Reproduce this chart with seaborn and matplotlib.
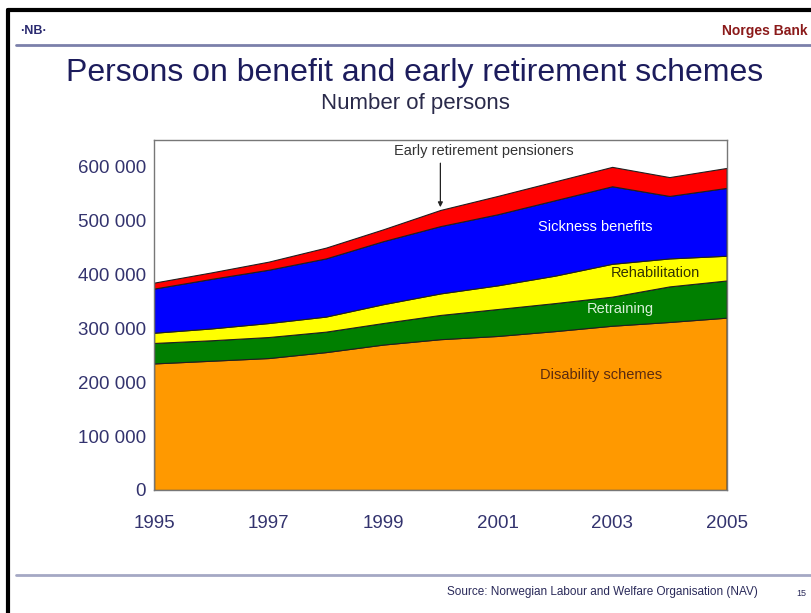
import matplotlib
matplotlib.use("Agg")
import matplotlib.pyplot as plt
import matplotlib.ticker as mticker
from matplotlib.lines import Line2D
import seaborn as sns
import numpy as np

# data (persons)
years = [1995, 1996, 1997, 1998, 1999, 2000, 2001, 2002, 2003, 2004, 2005]
disability = [235000, 240000, 245000, 256000, 270000, 280000, 286000, 295000, 305000, 312000, 320000]
retraining = [38000, 38000, 39000, 38000, 40000, 45000, 50000, 52000, 54000, 66000, 69000]
rehabilitation = [19000, 22000, 26000, 28000, 35000, 40000, 44000, 51000, 61000, 52000, 46000]
sickness = [82000, 92000, 99000, 108000, 117000, 125000, 132000, 140000, 144000, 116000, 126000]
early_retirement = [11000, 12000, 15000, 20000, 22000, 30000, 34000, 35000, 36000, 35000, 37000]

series = [disability, retraining, rehabilitation, sickness, early_retirement]
colors = ["#FF9900", "#007F00", "#FFFF00", "#0000FF", "#FF0000"]

sns.set_theme(style="white")
plt.rcParams['font.family'] = ['Liberation Sans', 'DejaVu Sans']

fig = plt.figure(figsize=(8.11, 6.13), dpi=100)
ax = fig.add_axes([0.190, 0.2007, 0.706, 0.571])

ax.stackplot(years, *series, colors=colors, edgecolor="#202020", linewidth=0.8)

ax.set_xlim(1995, 2005)
ax.set_ylim(0, 650000)
ax.set_xticks(years[::2])
ax.set_yticks(np.arange(0, 600001, 100000))
ax.yaxis.set_major_formatter(mticker.FuncFormatter(lambda v, p: f"{int(v):,}".replace(",", " ")))
ax.tick_params(direction="in", length=4, color="#555555", labelsize=13.5,
               labelcolor="#33336e", pad=6)
ax.tick_params(axis="x", pad=18)
for s in ax.spines.values():
    s.set_color("#777777")
    s.set_linewidth(1.0)

# layer labels
cum = np.cumsum(series, axis=0)
ax.text(2002.7, 488000, "Sickness benefits", color="white", fontsize=10.5, ha="center", va="center")
ax.text(2003.75, 402000, "Rehabilitation", color="#333300", fontsize=10.5, ha="center", va="center")
ax.text(2003.15, 336000, "Retraining", color="#d8f0d8", fontsize=10.5, ha="center", va="center")
ax.text(2002.8, 213000, "Disability schemes", color="#5a2a10", fontsize=10.5, ha="center", va="center")
ax.text(2000.75, 630000, "Early retirement pensioners", color="#333333", fontsize=10.5,
        ha="center", va="center")
ax.annotate("", xy=(2000, cum[-1][5]), xytext=(2000, 612000),
            arrowprops=dict(arrowstyle="-|>", color="#222222", lw=0.9, mutation_scale=7))

# slide decoration
def fy(y):
    return 1 - y / 613

def fx(x):
    return x / 811

fig.add_artist(Line2D([fx(8), 1], [fy(10), fy(10)], color="black", lw=3))
fig.add_artist(Line2D([fx(8), fx(8)], [fy(10), 0], color="black", lw=3))
fig.add_artist(Line2D([fx(16), 1], [fy(45), fy(45)], color="#7b80aa", lw=2))
fig.add_artist(Line2D([fx(16), 1], [fy(575), fy(575)], color="#a5a8c4", lw=2))

fig.text(fx(20), fy(31), "\u00b7NB\u00b7", color="#2a2a70", fontsize=9, fontweight="bold", va="center")
fig.text(fx(808), fy(31), "Norges Bank", color="#8b1a1a", fontsize=10, fontweight="bold",
         ha="right", va="center")
fig.text(fx(415), fy(73), "Persons on benefit and early retirement schemes", color="#1c1c5c",
         fontsize=23, ha="center", va="center")
fig.text(fx(415), fy(103), "Number of persons", color="#2a2a4a", fontsize=16,
         ha="center", va="center")
fig.text(fx(758), fy(592), "Source: Norwegian Labour and Welfare Organisation (NAV)",
         color="#2a2a5a", fontsize=8.5, ha="right", va="center")
fig.text(fx(801), fy(593), "15", color="#2a2a5a", fontsize=6.5, ha="center", va="center")

fig.savefig("out.png", dpi=100)
